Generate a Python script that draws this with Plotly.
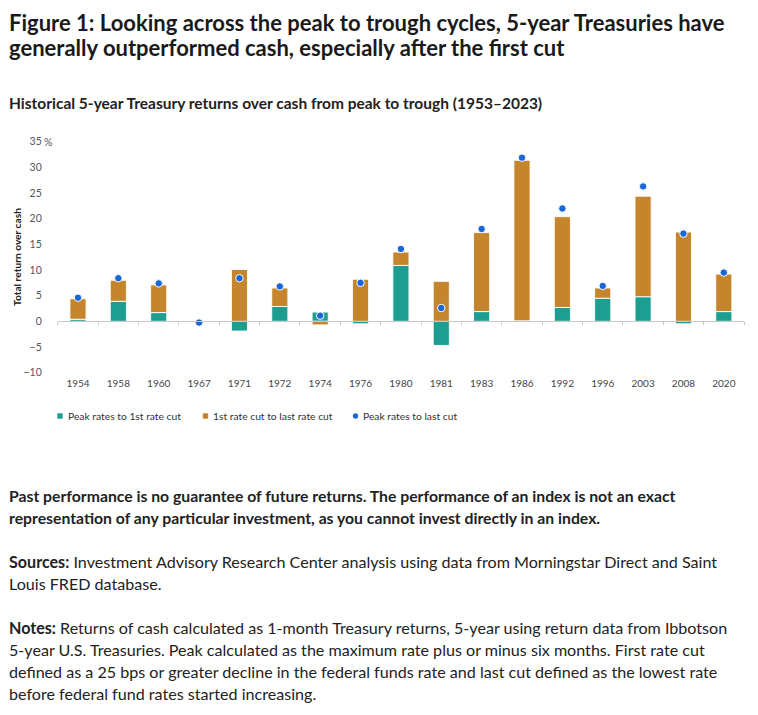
import plotly.graph_objects as go

years = ["1954", "1958", "1960", "1967", "1971", "1972", "1974", "1976", "1980",
         "1981", "1983", "1986", "1992", "1996", "2003", "2008", "2020"]
peak_to_first_cut = [0.4, 3.9, 1.7, -0.15, -1.9, 2.9, 1.8, -0.5, 10.9,
                     -4.7, 1.9, 0.1, 2.7, 4.5, 4.8, -0.5, 1.9]
first_to_last_cut = [4.0, 4.1, 5.4, -0.1, 10.1, 3.6, -0.7, 8.2, 2.6,
                     7.8, 15.4, 31.3, 17.7, 2.0, 19.6, 17.4, 7.3]
peak_to_last_cut = [4.6, 8.4, 7.4, -0.25, 8.4, 6.8, 1.1, 7.5, 14.1,
                    2.6, 18.0, 31.9, 22.0, 6.9, 26.3, 17.1, 9.5]
y_ticks = [-10, -5, 0, 5, 10, 15, 20, 25, 30, 35]
y_tick_text = ["\u221210", "\u22125", "0", "5", "10", "15", "20", "25", "30", "35"]

series_names = ["Peak rates to 1st rate cut", "1st rate cut to last rate cut", "Peak rates to last cut"]
y_axis_title = "Total return over cash"

title_lines = [
    "Figure 1: Looking across the peak to trough cycles, 5-year Treasuries have",
    "generally outperformed cash, especially after the first cut",
]
subtitle = "Historical 5-year Treasury returns over cash from peak to trough (1953\u20132023)"
body_lines = [
    ("<b>Past performance is no guarantee of future returns. The performance of an index is not an exact</b>", 495, 15.75),
    ("<b>representation of any particular investment, as you cannot invest directly in an index.</b>", 517, 15.75),
    ("<b>Sources:</b> Investment Advisory Research Center analysis using data from Morningstar Direct and Saint", 561, 16.1),
    ("Louis FRED database.", 583, 16.1),
    ("<b>Notes:</b> Returns of cash calculated as 1-month Treasury returns, 5-year using return data from Ibbotson", 627, 16.1),
    ("5-year U.S. Treasuries. Peak calculated as the maximum rate plus or minus six months. First rate cut", 649, 16.1),
    ("defined as a 25 bps or greater decline in the federal funds rate and last cut defined as the lowest rate", 671, 16.1),
    ("before federal fund rates started increasing.", 693, 16.1),
]

# The page body has an 8px margin, so the figure is drawn 16px smaller and
# every pixel position is shifted by that offset.
VW, VH = 758, 715
OFF = 8
W, H = VW - 2 * OFF, VH - 2 * OFF
FONT = "Lato, Noto Sans, sans-serif"
TEAL = "#1d9e90"
OCHRE = "#c4852c"
BLUE = "#1a66d6"


def px(x):
    return (x - OFF) / W


def py(y):
    return 1 - (y - OFF) / H


# plot area geometry (viewport pixels)
x_left, x_right = 57.8, 744.0
y_top, y_bot = 141.7, 372.7
y_min, y_max = -10, 35
dom_y0 = py(y_bot)
dom_y1 = py(y_top)
zero_pos = dom_y0 + (0 - y_min) / (y_max - y_min) * (dom_y1 - dom_y0)

fig = go.Figure()
fig.add_trace(go.Bar(x=years, y=peak_to_first_cut, name=series_names[0],
                     marker=dict(color=TEAL, line=dict(color="rgba(255,255,255,0.9)", width=1)),
                     width=0.4, showlegend=False))
fig.add_trace(go.Bar(x=years, y=first_to_last_cut, name=series_names[1],
                     marker=dict(color=OCHRE, line=dict(color="rgba(255,255,255,0.9)", width=1)),
                     width=0.4, showlegend=False))
fig.add_trace(go.Scatter(x=years, y=peak_to_last_cut, name=series_names[2], mode="markers",
                         xaxis="x2", yaxis="y", showlegend=False,
                         marker=dict(color=BLUE, size=7.5, line=dict(color="white", width=1))))

fig.update_layout(
    width=W, height=H,
    margin=dict(l=0, r=0, t=0, b=0, pad=0, autoexpand=False),
    paper_bgcolor="white", plot_bgcolor="white",
    barmode="relative",
    font=dict(family=FONT, color="#333333", size=10),
    showlegend=False,
    xaxis=dict(domain=[px(x_left), px(x_right)], type="category", categoryorder="array",
               categoryarray=years, range=[-0.5, len(years) - 0.5],
               showline=False, ticks="", showgrid=False, zeroline=False,
               automargin=False, ticklabelstandoff=3,
               tickfont=dict(family=FONT, size=10, color="#444444"), fixedrange=True),
    xaxis2=dict(overlaying="x", matches="x", anchor="free", position=zero_pos,
                type="category", categoryorder="array", categoryarray=years, automargin=False,
                showline=True, linecolor="#c8c8c8", linewidth=1,
                ticks="outside", tickson="boundaries", ticklen=3, tickcolor="#c8c8c8",
                showticklabels=False, showgrid=False, zeroline=False),
    yaxis=dict(domain=[dom_y0, dom_y1], range=[y_min - 0.02, y_max + 0.02],
               tickmode="array", tickvals=y_ticks, ticktext=y_tick_text, automargin=False,
               showgrid=False, zeroline=False, showline=False, ticks="",
               ticklabelstandoff=15,
               tickfont=dict(family=FONT, size=10.5, color="#555555")),
)

# y-axis title
fig.add_annotation(text="<b>" + y_axis_title + "</b>", xref="paper", yref="paper",
                   x=px(17), y=py(257), xanchor="center", yanchor="middle", textangle=-90,
                   showarrow=False, font=dict(family=FONT, size=10.2, color="#222222"))

# percent sign after top tick label
fig.add_annotation(text="%", xref="paper", yref="paper", x=px(41.5), y=py(y_top),
                   xanchor="left", yanchor="middle", showarrow=False,
                   font=dict(family=FONT, size=10.5, color="#555555"))

# legend (manual)
legend_items = [(series_names[0], TEAL, "rect", 60, 68),
                (series_names[1], OCHRE, "rect", 205.5, 213),
                (series_names[2], BLUE, "circle", 355.5, 363)]
for name, color, shape_type, cx, tx in legend_items:
    fig.add_shape(type=shape_type, xref="paper", yref="paper",
                  x0=px(cx - 2.7), x1=px(cx + 2.7), y0=py(416 + 2.7), y1=py(416 - 2.7),
                  fillcolor=color, line=dict(width=0))
    fig.add_annotation(text=name, xref="paper", yref="paper", x=px(tx - 2), y=py(416),
                       xanchor="left", yanchor="middle", showarrow=False,
                       font=dict(family=FONT, size=10.3, color="#333333"))

for i, line in enumerate(title_lines):
    fig.add_annotation(text="<b>" + line + "</b>", xref="paper", yref="paper",
                       x=px(7), y=py(23 + 25 * i), xanchor="left", yanchor="middle",
                       showarrow=False, font=dict(family=FONT, size=22.0, color="#1a1a1a"))

fig.add_annotation(text="<b>" + subtitle + "</b>", xref="paper", yref="paper",
                   x=px(7), y=py(103), xanchor="left", yanchor="middle",
                   showarrow=False, font=dict(family=FONT, size=15.5, color="#222222"))

for text, ypx, fsize in body_lines:
    fig.add_annotation(text=text, xref="paper", yref="paper",
                       x=px(7), y=py(ypx), xanchor="left", yanchor="middle",
                       showarrow=False, font=dict(family=FONT, size=fsize, color="#222222"))

fig.write_html("out.html")
